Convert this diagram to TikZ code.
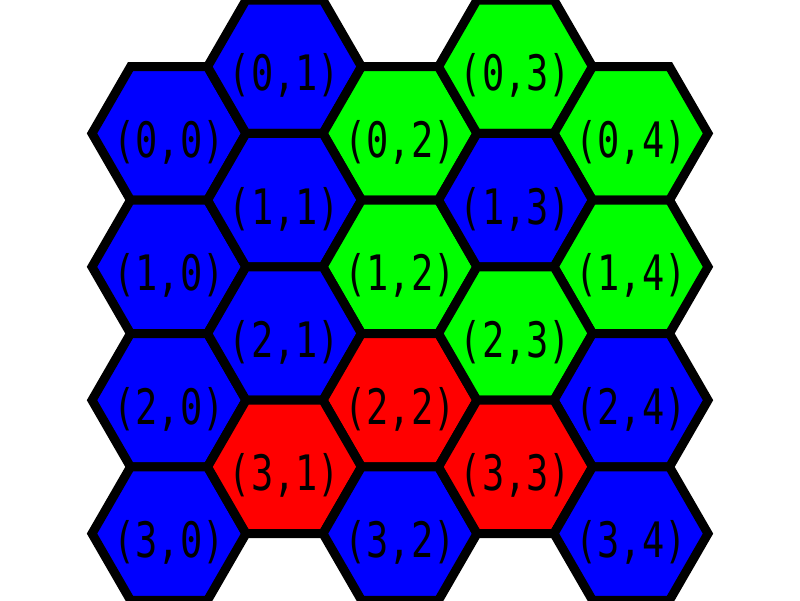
\documentclass[tikz,border=0pt]{standalone}
\usepackage{fontspec}
\newfontfamily\hexfont{DejaVu Sans Mono}
\definecolor{hexblue}{RGB}{0,0,255}
\definecolor{hexgreen}{RGB}{0,255,0}
\definecolor{hexred}{RGB}{255,0,0}
\newcommand{\hextext}[1]{\scalebox{1}[1.32]{#1}}
\begin{document}
\begin{tikzpicture}[x=1pt,y=-1pt,
  hexcell/.style={draw=black,line width=9pt,line join=miter},
  hexlabel/.style={font=\hexfont\fontsize{37}{40}\selectfont,anchor=base,inner sep=0pt}]
\useasboundingbox (0,0) rectangle (800,600);
\clip (0,0) rectangle (800,600);
\foreach \r/\c/\col in {
  0/0/hexblue, 0/1/hexblue, 0/2/hexgreen, 0/3/hexgreen, 0/4/hexgreen,
  1/0/hexblue, 1/1/hexblue, 1/2/hexgreen, 1/3/hexblue, 1/4/hexgreen,
  2/0/hexblue, 2/1/hexblue, 2/2/hexred, 2/3/hexgreen, 2/4/hexblue,
  3/0/hexblue, 3/1/hexred, 3/2/hexblue, 3/3/hexred, 3/4/hexblue} {
  \pgfmathsetmacro\cx{400+(\c-2)*115.5}
  \pgfmathsetmacro\cy{66.7*(2-mod(\c,2))+\r*133.4}
  \filldraw[hexcell,fill=\col] ({\cx-77},{\cy}) -- ({\cx-38.5},{\cy-66.7}) -- ({\cx+38.5},{\cy-66.7})
     -- ({\cx+77},{\cy}) -- ({\cx+38.5},{\cy+66.7}) -- ({\cx-38.5},{\cy+66.7}) -- cycle;
  \node[hexlabel] (h\r\c) at ({\cx},{\cy+24}) {\hextext{(\r,\c)}};
}
\end{tikzpicture}
\end{document}
